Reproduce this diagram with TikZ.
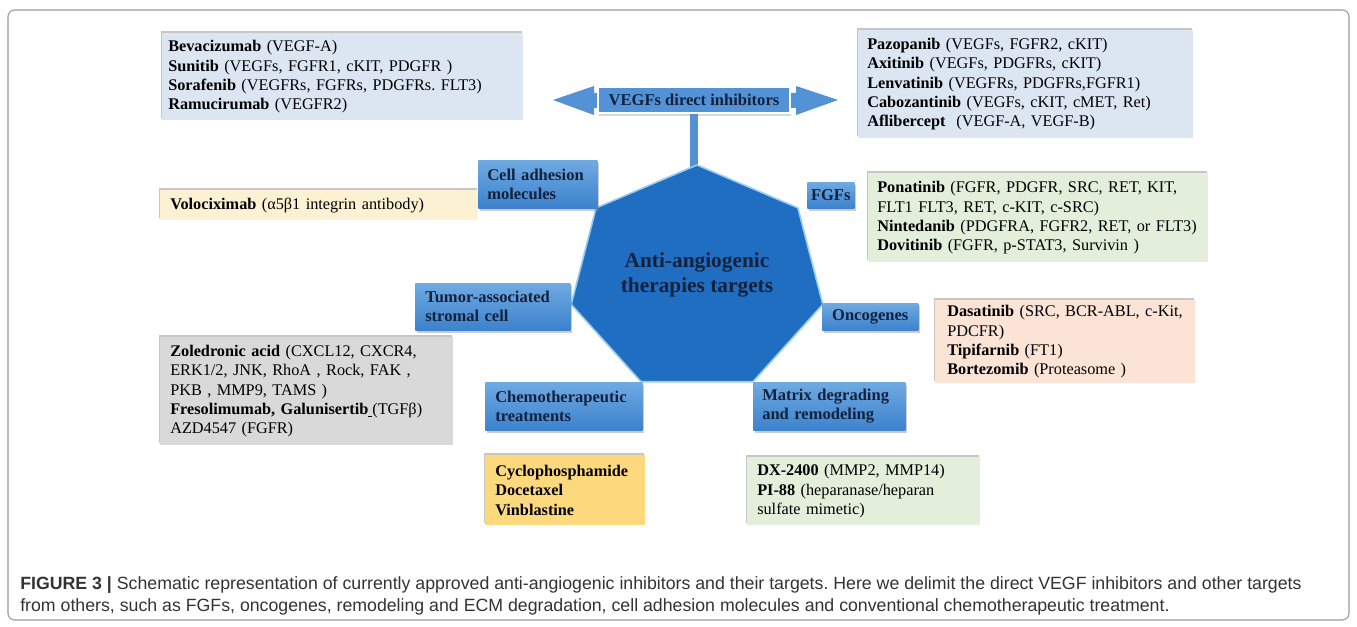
\documentclass[tikz,border=0pt]{standalone}
\usepackage{fontspec}
\setmainfont{Liberation Serif}
\newfontfamily\capfont{Liberation Sans}
\usetikzlibrary{shadows}
\definecolor{heptFill}{HTML}{1F6EC2}
\definecolor{heptEdge}{HTML}{9CCBF0}
\definecolor{catTop}{HTML}{6FAAE2}
\definecolor{catBot}{HTML}{3C82CD}
\definecolor{arrowFill}{HTML}{5292D5}
\definecolor{catText}{HTML}{14213D}
\definecolor{bxBlue}{HTML}{DCE6F2}
\definecolor{bxCream}{HTML}{FDF1D3}
\definecolor{bxGreen}{HTML}{E3EEDB}
\definecolor{bxGray}{HTML}{D9D9D9}
\definecolor{bxPeach}{HTML}{FBE4D6}
\definecolor{bxYellow}{HTML}{FDD97E}
\definecolor{capGray}{HTML}{333333}
\definecolor{frameGray}{HTML}{999999}
\begin{document}
\frenchspacing
\begin{tikzpicture}[x=0.75pt,y=-0.75pt,
  infobox/.style={anchor=north west, inner ysep=0pt, align=left,
    font=\fontsize{12.2}{14.5}\selectfont, text=black,
    drop shadow={shadow xshift=-0.8pt, shadow yshift=1.4pt, opacity=0.45, fill=gray}},
  catbox/.style={anchor=north west, inner ysep=0pt, align=left,
    font=\fontsize{12.4}{14.3}\selectfont\bfseries, text=catText,
    top color=catTop, bottom color=catBot,
    drop shadow={shadow xshift=1.5pt, shadow yshift=-2pt, opacity=0.4}},
  captext/.style={anchor=west, inner sep=0pt, font=\capfont\fontsize{13.3}{15}\selectfont, text=capGray}
]
\useasboundingbox (0,0) rectangle (1357,627);
\draw[frameGray, line width=0.8pt, rounded corners=5pt] (8,10) rectangle (1349,620);

% VEGF arrow
\fill[arrowFill] (553,100) -- (594,86) -- (594,93) -- (796,93) -- (796,86) -- (838,100)
  -- (796,115) -- (796,108) -- (594,108) -- (594,115) -- cycle;
\coordinate (heptTop) at (697,168);
\draw[line width=6pt, arrowFill] (694,112) -- (694,168);
\node[draw=white, line width=1pt, fill=arrowFill, minimum width=144pt, minimum height=19.5pt,
  inner sep=0pt, font=\fontsize{12.4}{14.3}\selectfont\bfseries, text=catText,
  drop shadow={shadow xshift=1pt, shadow yshift=-2pt, opacity=0.3}]
  (vegf) at (694,100) {VEGFs direct inhibitors};

% heptagon
\filldraw[fill=heptFill, draw=heptEdge, line width=1.2pt]
  (697,165) -- (797.9,207.9) -- (822.8,304.4) -- (753.0,381.7) -- (641.0,381.7)
  -- (571.2,304.4) -- (596.1,207.9) -- cycle;
\node[align=center, font=\fontsize{16}{18.75}\selectfont\bfseries, text=catText]
  (hept) at (697,274.5) {Anti-angiogenic\\therapies targets};

% category boxes
\node[catbox, inner xsep=6.75pt, text width=75.75pt, minimum height=36pt] (cam) at (478,160) {Cell adhesion\\molecules};
\node[catbox, align=center, inner xsep=0pt, text width=35.25pt, minimum height=19.5pt] (fgf) at (807,182) {FGFs};
\node[catbox, inner xsep=7.5pt, text width=101.25pt, minimum height=35.25pt] (tasc) at (415,283) {Tumor-associated\\stromal cell};
\node[catbox, align=center, inner xsep=0pt, text width=72pt, minimum height=20.25pt] (onc) at (822,303) {Oncogenes};
\node[catbox, inner xsep=7.5pt, text width=102.75pt, minimum height=36pt] (chemo) at (485,382) {Chemotherapeutic\\treatments};
\node[catbox, inner xsep=6.75pt, text width=100.5pt, minimum height=36pt] (matrix) at (753,382) {Matrix degrading\\and remodeling};

% info boxes
\node[infobox, fill=bxBlue, inner xsep=4.5pt, text width=261.75pt, minimum height=65.25pt] (vegfL) at (162,33)
  {\mbox{\textbf{Bevacizumab} (VEGF-A)}\\
   \mbox{\textbf{Sunitib} (VEGFs, FGFR1, cKIT, PDGFR )}\\
   \mbox{\textbf{Sorafenib} (VEGFRs, FGFRs, PDGFRs. FLT3)}\\
   \mbox{\textbf{Ramucirumab} (VEGFR2)}};
\node[infobox, fill=bxBlue, inner xsep=6.75pt, text width=237.75pt, minimum height=81pt] (vegfR) at (858,30)
  {\mbox{\textbf{Pazopanib} (VEGFs, FGFR2, cKIT)}\\
   \mbox{\textbf{Axitinib} (VEGFs, PDGFRs, cKIT)}\\
   \mbox{\textbf{Lenvatinib} (VEGFRs, PDGFRs,FGFR1)}\\
   \mbox{\textbf{Cabozantinib} (VEGFs, cKIT, cMET, Ret)}\\
   \mbox{\textbf{Aflibercept}\ \ (VEGF-A, VEGF-B)}};
\node[infobox, fill=bxCream, inner xsep=7.5pt, text width=223.5pt, minimum height=22.5pt] (volo) at (160,190)
  {\mbox{\textbf{Volociximab} (α5β1 integrin antibody)}};
\node[infobox, fill=bxGreen, inner xsep=6.75pt, text width=241.5pt, minimum height=66.75pt] (fgfinfo) at (868,173)
  {\mbox{\textbf{Ponatinib} (FGFR, PDGFR, SRC, RET, KIT,}\\
   \mbox{FLT1 FLT3, RET, c-KIT, c-SRC)}\\
   \mbox{\textbf{Nintedanib} (PDGFRA, FGFR2, RET, or FLT3)}\\
   \mbox{\textbf{Dovitinib} (FGFR, p-STAT3, Survivin )}};
\node[infobox, fill=bxGray, inner xsep=7.5pt, text width=204.75pt, minimum height=81pt] (tascinfo) at (160,337)
  {\mbox{\textbf{Zoledronic acid} (CXCL12, CXCR4,}\\
   \mbox{ERK1/2, JNK, RhoA , Rock, FAK ,}\\
   \mbox{PKB , MMP9, TAMS )}\\
   \mbox{\textbf{Fresolimumab, Galunisertib}\underline{\hspace{3pt}}(TGFβ)}\\
   \mbox{AZD4547 (FGFR)}};
\node[infobox, fill=bxPeach, inner xsep=9pt, text width=177pt, minimum height=62.25pt] (oncinfo) at (935,300)
  {\mbox{\textbf{Dasatinib} (SRC, BCR-ABL, c-Kit,}\\
   \mbox{PDCFR)}\\
   \mbox{\textbf{Tipifarnib} (FT1)}\\
   \mbox{\textbf{Bortezomib} (Proteasome )}};
\node[infobox, fill=bxYellow, inner xsep=7.5pt, text width=105pt, minimum height=52.5pt] (chemoinfo) at (485,455)
  {\mbox{\textbf{Cyclophosphamide}}\\
   \mbox{\textbf{Docetaxel}}\\
   \mbox{\textbf{Vinblastine}}};
\node[infobox, fill=bxGreen, inner xsep=7.5pt, text width=159.75pt, minimum height=51pt] (matinfo) at (747,457)
  {\mbox{\textbf{DX-2400} (MMP2, MMP14)}\\
   \mbox{\textbf{PI-88} (heparanase/heparan}\\
   \mbox{sulfate mimetic)}};

% caption
\node[captext] (cap1) at (20,585) {\textbf{FIGURE 3 |} Schematic representation of currently approved anti-angiogenic inhibitors and their targets. Here we delimit the direct VEGF inhibitors and other targets};
\node[captext] (cap2) at (20,607) {from others, such as FGFs, oncogenes, remodeling and ECM degradation, cell adhesion molecules and conventional chemotherapeutic treatment.};
\end{tikzpicture}
\end{document}
